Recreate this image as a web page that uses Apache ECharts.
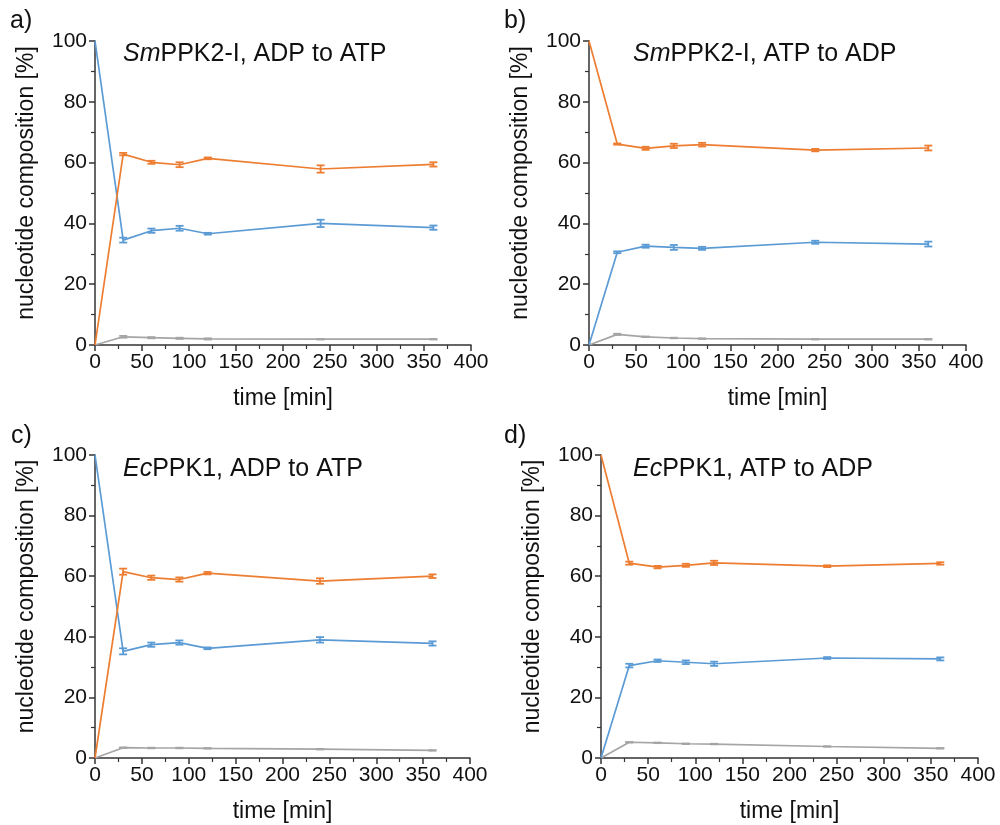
<!DOCTYPE html>
<html><head><meta charset="utf-8">
<script src="https://cdn.jsdelivr.net/npm/echarts@6/dist/echarts.min.js"></script>
<style>html,body{margin:0;padding:0;background:#fff}#c{width:1000px;height:825px}</style>
</head><body><div id="c"></div>
<script>
const times = [0, 30, 60, 90, 120, 240, 360];
const xTicks = [0, 50, 100, 150, 200, 250, 300, 350, 400];
const yTicks = [0, 20, 40, 60, 80, 100];

// Panel a: SmPPK2-I, ADP to ATP
const aBlue   = [100, 34.5, 37.6, 38.4, 36.6, 40.0, 38.6];
const aBlueErr= [0, 0.8, 0.7, 0.8, 0.3, 1.2, 0.7];
const aOrange = [0, 62.8, 60.1, 59.3, 61.4, 57.9, 59.4];
const aOrangeErr=[0, 0.4, 0.5, 0.8, 0.3, 1.2, 0.7];
const aGray   = [0, 2.7, 2.4, 2.2, 2.0, 1.9, 1.9];
const aGrayErr= [0, 0.3, 0.2, 0.2, 0.2, 0.1, 0.1];

// Panel b: SmPPK2-I, ATP to ADP
const bBlue   = [0, 30.5, 32.5, 32.1, 31.8, 33.8, 33.2];
const bBlueErr= [0, 0.3, 0.5, 0.8, 0.5, 0.5, 0.8];
const bOrange = [100, 66.1, 64.7, 65.5, 65.9, 64.1, 64.8];
const bOrangeErr=[0, 0.2, 0.5, 0.7, 0.6, 0.4, 0.8];
const bGray   = [0, 3.5, 2.7, 2.3, 2.1, 1.9, 1.9];
const bGrayErr= [0, 0.2, 0.1, 0.1, 0.1, 0.1, 0.1];

// Panel c: EcPPK1, ADP to ATP
const cBlue   = [100, 35.2, 37.4, 38.1, 36.2, 39.0, 37.8];
const cBlueErr= [0, 1.0, 0.7, 0.7, 0.3, 0.9, 0.7];
const cOrange = [0, 61.5, 59.5, 58.9, 61.0, 58.4, 60.0];
const cOrangeErr=[0, 1.0, 0.7, 0.7, 0.4, 0.9, 0.6];
const cGray   = [0, 3.4, 3.3, 3.3, 3.2, 2.9, 2.5];
const cGrayErr= [0, 0.1, 0.1, 0.1, 0.1, 0.1, 0.1];

// Panel d: EcPPK1, ATP to ADP
const dBlue   = [0, 30.5, 32.1, 31.6, 31.1, 33.0, 32.7];
const dBlueErr= [0, 0.6, 0.4, 0.6, 0.7, 0.3, 0.5];
const dOrange = [100, 64.3, 63.0, 63.6, 64.4, 63.3, 64.2];
const dOrangeErr=[0, 0.5, 0.4, 0.5, 0.7, 0.3, 0.4];
const dGray   = [0, 5.2, 5.0, 4.7, 4.6, 3.8, 3.2];
const dGrayErr= [0, 0.1, 0.1, 0.1, 0.1, 0.1, 0.1];

const panelLabels = ['a)', 'b)', 'c)', 'd)'];
const panelTitles = [
  ['Sm', 'PPK2-I, ADP to ATP'],
  ['Sm', 'PPK2-I, ATP to ADP'],
  ['Ec', 'PPK1, ADP to ATP'],
  ['Ec', 'PPK1, ATP to ADP']
];
const xName = 'time [min]';
const yName = 'nucleotide composition [%]';

const BLUE = '#5B9BD5', ORANGE = '#ED7D31', GRAY = '#A5A5A5';
const FONT = 'Arial, "Liberation Sans", sans-serif';
const AXC = '#333333';
const TXT = '#111111';

const panels = [
  {blue:aBlue, be:aBlueErr, orange:aOrange, oe:aOrangeErr, gray:aGray, ge:aGrayErr},
  {blue:bBlue, be:bBlueErr, orange:bOrange, oe:bOrangeErr, gray:bGray, ge:bGrayErr},
  {blue:cBlue, be:cBlueErr, orange:cOrange, oe:cOrangeErr, gray:cGray, ge:cGrayErr},
  {blue:dBlue, be:dBlueErr, orange:dOrange, oe:dOrangeErr, gray:dGray, ge:dGrayErr}
];

const grids = [
  {left: 95, top: 41, width: 376, height: 304},
  {left: 589, top: 41, width: 377, height: 304},
  {left: 95, top: 455, width: 375, height: 303},
  {left: 601, top: 455, width: 377, height: 303}
];
const labelPos = [[5, 4], [499, 4], [6, 419], [499, 419]];
const titlePos = [[118, 37], [628, 37], [118, 452], [628, 452]];

const xAxes = [], yAxes = [], series = [], titles = [];
grids.forEach((g, i) => {
  xAxes.push({
    type: 'value', gridIndex: i, min: xTicks[0], max: xTicks[xTicks.length-1], interval: 50,
    name: xName, nameLocation: 'middle', nameGap: 42,
    nameTextStyle: {fontFamily: FONT, fontSize: 23, color: TXT},
    axisLine: {show: true, onZero: false, lineStyle: {color: AXC, width: 1.5}},
    axisTick: {show: true, inside: false, length: 6, lineStyle: {color: AXC, width: 1.5}},
    minorTick: {show: true, splitNumber: 2, length: 4, lineStyle: {color: AXC, width: 1.2}},
    axisLabel: {fontFamily: FONT, fontSize: 21, color: TXT, margin: 7},
    splitLine: {show: false}
  });
  yAxes.push({
    type: 'value', gridIndex: i, min: yTicks[0], max: yTicks[yTicks.length-1], interval: 20,
    name: yName, nameLocation: 'middle', nameGap: 57,
    nameTextStyle: {fontFamily: FONT, fontSize: 23, color: TXT, padding: [0, 0, 0, 20]},
    axisLine: {show: true, onZero: false, lineStyle: {color: AXC, width: 1.5}},
    axisTick: {show: true, inside: false, length: 6, lineStyle: {color: AXC, width: 1.5}},
    minorTick: {show: true, splitNumber: 2, length: 4, lineStyle: {color: AXC, width: 1.2}},
    axisLabel: {fontFamily: FONT, fontSize: 21, color: TXT, margin: 8},
    splitLine: {show: false}
  });
  const p = panels[i];
  const addLine = (vals, errs, color) => {
    series.push({
      type: 'line', xAxisIndex: i, yAxisIndex: i, data: times.map((t, k) => [t, vals[k]]),
      symbol: 'none', lineStyle: {color: color, width: 1.7}, itemStyle: {color: color},
      silent: true, animation: false, z: 2
    });
    series.push({
      type: 'custom', xAxisIndex: i, yAxisIndex: i,
      data: times.map((t, k) => [t, vals[k], errs[k]]).filter(d => d[2] > 0),
      encode: {x: 0, y: 1},
      renderItem: (params, api) => {
        const x = api.value(0), y = api.value(1), e = api.value(2);
        const lo = api.coord([x, y - e]), hi = api.coord([x, y + e]);
        const w = 4;
        const st = {stroke: color, lineWidth: 1.8};
        return {type: 'group', children: [
          {type: 'line', shape: {x1: lo[0], y1: lo[1], x2: hi[0], y2: hi[1]}, style: st},
          {type: 'line', shape: {x1: lo[0]-w, y1: lo[1], x2: lo[0]+w, y2: lo[1]}, style: st},
          {type: 'line', shape: {x1: hi[0]-w, y1: hi[1], x2: hi[0]+w, y2: hi[1]}, style: st}
        ]};
      },
      silent: true, animation: false, z: 3
    });
  };
  addLine(p.gray, p.ge, GRAY);
  addLine(p.blue, p.be, BLUE);
  addLine(p.orange, p.oe, ORANGE);

  titles.push({
    left: labelPos[i][0], top: labelPos[i][1], text: panelLabels[i],
    textStyle: {fontFamily: FONT, fontSize: 25, fontWeight: 'normal', color: TXT}
  });
  titles.push({
    left: titlePos[i][0], top: titlePos[i][1],
    text: '{i|' + panelTitles[i][0] + '}{n|' + panelTitles[i][1] + '}',
    textStyle: {
      fontFamily: FONT, fontSize: 25, fontWeight: 'normal', color: TXT,
      rich: {
        i: {fontFamily: FONT, fontSize: 25, fontStyle: 'italic', color: TXT},
        n: {fontFamily: FONT, fontSize: 25, color: TXT}
      }
    }
  });
});

const chart = echarts.init(document.getElementById('c'), null, {renderer: 'canvas'});
chart.setOption({
  backgroundColor: '#fff',
  animation: false,
  title: titles,
  grid: grids,
  xAxis: xAxes,
  yAxis: yAxes,
  series: series
});
</script>
</body></html>
